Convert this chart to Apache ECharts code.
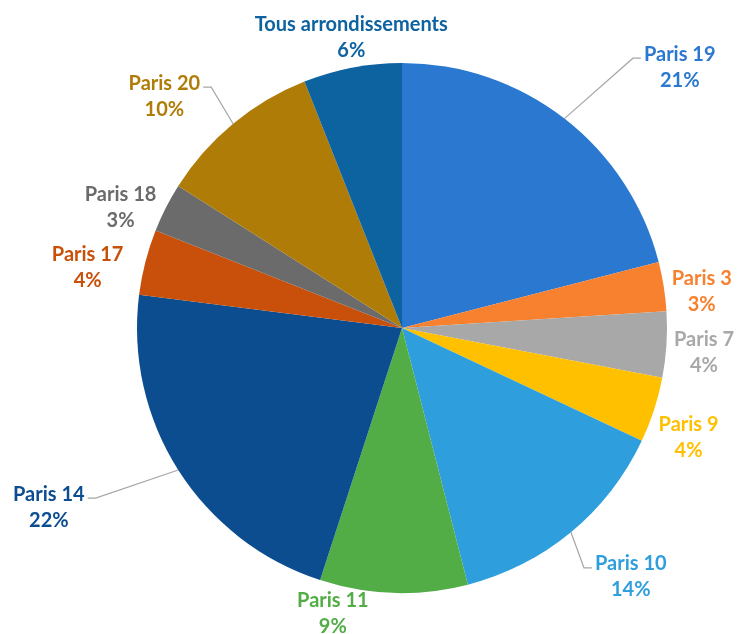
<!DOCTYPE html>
<html>
<head>
<meta charset="utf-8">
<script src="https://cdn.jsdelivr.net/npm/echarts@6/dist/echarts.min.js"></script>
<style>
  html, body { margin: 0; padding: 0; background: #fff; }
  #chart { width: 737px; height: 634px; }
</style>
</head>
<body>
<div id="chart"></div>
<script>
// parts of the whole, clockwise from 12 o'clock
const categories = ['Paris 19', 'Paris 3', 'Paris 7', 'Paris 9', 'Paris 10', 'Paris 11',
  'Paris 14', 'Paris 17', 'Paris 18', 'Paris 20', 'Tous arrondissements']
const shares = [21, 3, 4, 4, 14, 9, 22, 4, 3, 10, 6]
const sliceColors = ['#2a78cf', '#f7812f', '#a8a8a8', '#ffc000', '#2e9fdc', '#52ad46',
  '#0b4d8f', '#c9500a', '#6b6b6b', '#b07c08', '#0d62a0']

// label placement (Excel "best fit" look): degrees off the slice middle, distance from centre
const labelTurn = [9, 2, 1.1, 3, -3, 11.8, 5.5, -3.6, -3.9, -6.1, 0.9]
const labelDist = [381, 302, 303, 307, 338, 294, 396, 320, 306, 332, 295]
const withLeader = [true, false, false, false, true, false, true, false, false, true, false]

const CX = 402
const CY = 328
const R = 265
const total = shares.reduce((a, b) => a + b, 0)

function midAngle(i) {
  const before = shares.slice(0, i).reduce((a, b) => a + b, 0)
  return (before + shares[i] / 2) / total * 360
}

const chart = echarts.init(document.getElementById('chart'))

chart.setOption({
  animation: false,
  series: [
    {
      type: 'pie',
      center: [CX, CY],
      radius: R,
      startAngle: 90,
      clockwise: true,
      avoidLabelOverlap: false,
      label: {
        position: 'outside',
        formatter: '{b}\n{c}%',
        fontFamily: 'Lato',
        fontWeight: 'bold',
        fontSize: 20,
        lineHeight: 26,
        overflow: 'none',
      },
      labelLine: {
        show: true,
        length: 10,
        length2: 10,
        lineStyle: { color: '#a6a6a6', width: 1.2 },
      },
      labelLayout(params) {
        const i = params.dataIndex
        const mid = midAngle(i)
        const a = (mid + labelTurn[i]) * Math.PI / 180
        const x = CX + labelDist[i] * Math.sin(a)
        const y = CY - labelDist[i] * Math.cos(a)
        const out = { x, y, align: 'center', verticalAlign: 'middle' }
        if (withLeader[i]) {
          const m = mid * Math.PI / 180
          const start = [CX + R * Math.sin(m), CY - R * Math.cos(m)]
          const half = params.labelRect.width / 2
          const right = x > CX
          const end = [right ? x - half - 3 : x + half + 3, y - 9]
          const knee = [right ? end[0] - 8 : end[0] + 8, end[1]]
          out.labelLinePoints = [start, knee, end]
        }
        return out
      },
      data: categories.map((name, i) => ({
        name,
        value: shares[i],
        itemStyle: { color: sliceColors[i] },
        label: { color: sliceColors[i] },
        labelLine: { show: withLeader[i] },
      })),
    },
  ],
})
</script>
</body>
</html>
